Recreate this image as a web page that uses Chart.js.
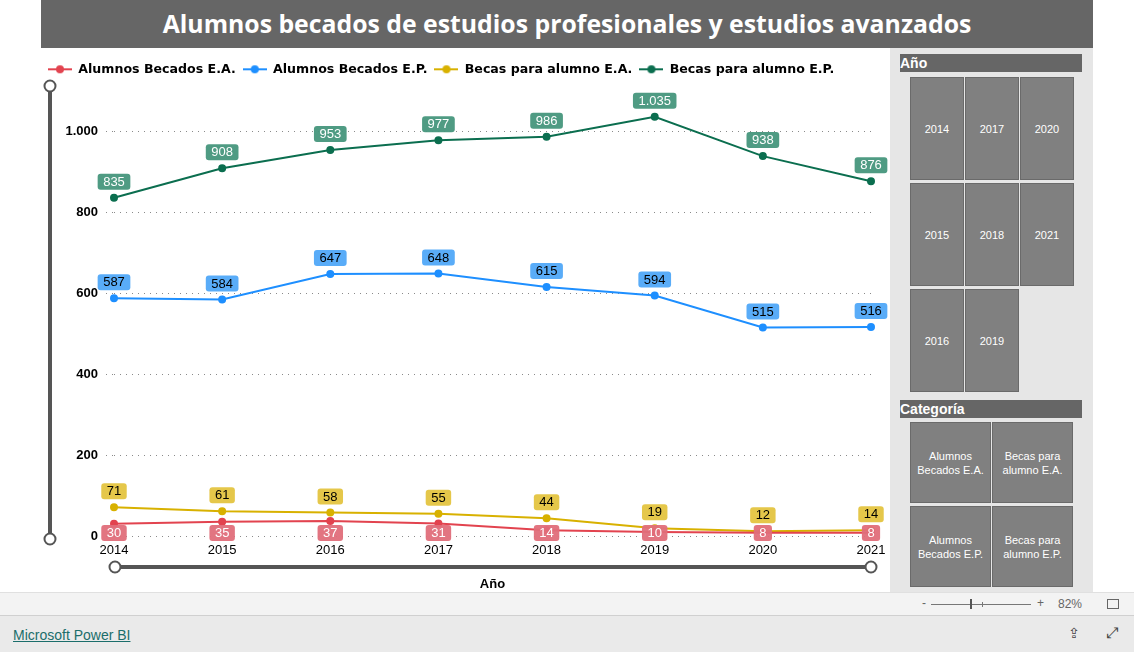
<!DOCTYPE html>
<html>
<head>
<meta charset="utf-8">
<script src="https://cdn.jsdelivr.net/npm/chart.js@4.4.0/dist/chart.umd.min.js"></script>
<style>
  body { margin: 0; width: 1134px; height: 652px; overflow: hidden; background: #fff; font-family: "Liberation Sans", Arial, sans-serif; position: relative; }
  #title { position: absolute; left: 41px; top: 0; width: 1052px; height: 48px; background: #666666; color: #fff;
    font: bold 24.8px "Open Sans", sans-serif; text-align: center; line-height: 47px; }
  #chartBox { position: absolute; left: 41px; top: 48px; width: 849px; height: 544px; }
  #panel { position: absolute; left: 890px; top: 48px; width: 203px; height: 544px; background: #e6e6e6; }
  .hdr { position: absolute; left: 10px; width: 182px; height: 18px; background: #666; color: #fff; font: bold 14px "Liberation Sans", Arial, sans-serif; line-height: 18px; }
  .btn { position: absolute; background: #808080; border: 1px solid #6a6a6a; box-sizing: border-box; color: #fff;
    font: 11px "Liberation Sans", Arial, sans-serif; display: flex; align-items: center; justify-content: center; text-align: center; line-height: 14px; }
  #toolbar { position: absolute; left: 0; top: 592px; width: 1134px; height: 23px; background: #f3f3f3; border-top: 1px solid #e0e0e0; box-sizing: border-box; font: 12px "Liberation Sans", Arial, sans-serif; color: #666; }
  #footer { position: absolute; left: 0; top: 615px; width: 1134px; height: 37px; background: #eaeaea; border-top: 1px solid #d0d0d0; box-sizing: border-box; }
  #footer a { position: absolute; left: 13px; top: 11px; color: #1b6e6b; font: 14px "Liberation Sans", Arial, sans-serif; text-decoration: underline; }
</style>
</head>
<body>
<div id="title">Alumnos becados de estudios profesionales y estudios avanzados</div>
<div id="chartBox"><canvas id="becasChart" width="849" height="544"></canvas></div>
<div id="panel"></div>
<div id="toolbar">
  <span style="position:absolute;left:922px;top:3px;">-</span>
  <div style="position:absolute;left:931px;top:11px;width:100px;height:1px;background:#777;"></div>
  <div style="position:absolute;left:970px;top:6px;width:2px;height:10px;background:#555;"></div>
  <div style="position:absolute;left:982px;top:9px;width:1px;height:5px;background:#777;"></div>
  <span style="position:absolute;left:1037px;top:3px;">+</span>
  <span style="position:absolute;left:1058px;top:4px;">82%</span>
  <div style="position:absolute;left:1107px;top:6px;width:10px;height:8px;border:1px solid #666;"></div>
</div>
<div id="footer">
  <a href="#">Microsoft Power BI</a>
  <span style="position:absolute;left:1068px;top:9px;font:14px 'DejaVu Sans';color:#444;">⇪</span>
  <span style="position:absolute;left:1106px;top:8px;font:15px 'DejaVu Sans';color:#444;">⤢</span>
</div>
<script>
// Data
const years = ['2014', '2015', '2016', '2017', '2018', '2019', '2020', '2021'];
const alumnosEA = [30, 35, 37, 31, 14, 10, 8, 8];
const alumnosEP = [587, 584, 647, 648, 615, 594, 515, 516];
const becasEA = [71, 61, 58, 55, 44, 19, 12, 14];
const becasEP = [835, 908, 953, 977, 986, 1035, 938, 876];
const yTicks = [0, 200, 400, 600, 800, 1000];
const categorias = ['Alumnos Becados E.A.', 'Becas para alumno E.A.', 'Alumnos Becados E.P.', 'Becas para alumno E.P.'];

// Slicer panel (right side)
const panel = document.getElementById('panel');
function addBox(cls, html, l, t, w, h) {
  const d = document.createElement('div');
  d.className = cls;
  d.innerHTML = html;
  d.style.left = l + 'px'; d.style.top = t + 'px';
  if (w) d.style.width = w + 'px';
  if (h) d.style.height = h + 'px';
  panel.appendChild(d);
}
addBox('hdr', 'Año', 10, 6);
years.forEach((y, i) => {
  const col = Math.floor(i / 3), row = i % 3;
  addBox('btn', y, 20 + col * 55, 29 + row * 106, 54, 103);
});
addBox('hdr', 'Categoría', 10, 352);
categorias.forEach((c, i) => {
  const col = i % 2, row = Math.floor(i / 2);
  const txt = c.replace(/^(Alumnos) /, '$1<br>').replace(/^(Becas para) /, '$1<br>');
  addBox('btn', txt, 20 + col * 82, 374 + row * 84, 81, 81);
});

const fmt = v => String(v).replace(/\B(?=(\d{3})+(?!\d))/g, '.');

// legend icon: line with dot
function legendIcon(color) {
  const c = document.createElement('canvas');
  c.width = 24; c.height = 10;
  const g = c.getContext('2d');
  g.strokeStyle = color; g.lineWidth = 2;
  g.beginPath(); g.moveTo(0, 5); g.lineTo(24, 5); g.stroke();
  g.fillStyle = color;
  g.beginPath(); g.arc(12, 5, 4, 0, Math.PI * 2); g.fill();
  return c;
}

const series = [
  { label: 'Alumnos Becados E.A.', data: alumnosEA, color: '#e2434f', box: 'rgba(224,110,122,0.95)', text: '#fff', below: true },
  { label: 'Alumnos Becados E.P.', data: alumnosEP, color: '#1e8fff', box: 'rgba(80,168,248,0.95)', text: '#000' },
  { label: 'Becas para alumno E.A.', data: becasEA, color: '#d8b100', box: 'rgba(228,196,64,0.95)', text: '#000' },
  { label: 'Becas para alumno E.P.', data: becasEP, color: '#0b6e4f', box: 'rgba(70,150,124,0.95)', text: '#fff' }
];

// Data labels in rounded boxes
const boxLabelPlugin = {
  id: 'boxLabelPlugin',
  afterDatasetsDraw(chart) {
    const { ctx, chartArea } = chart;
    ctx.save();
    ctx.font = '13px "Liberation Sans", Arial, sans-serif';
    ctx.textAlign = 'center';
    ctx.textBaseline = 'middle';
    chart.data.datasets.forEach((ds, di) => {
      const s = series[di];
      chart.getDatasetMeta(di).data.forEach((pt, i) => {
        const txt = fmt(ds.data[i]);
        const w = ctx.measureText(txt).width + 11;
        const h = 16;
        let cy = s.below ? Math.min(pt.y + 12, chartArea.bottom - 3) : pt.y - 16;
        ctx.fillStyle = s.box;
        ctx.beginPath();
        ctx.roundRect(pt.x - w / 2, cy - h / 2, w, h, 3);
        ctx.fill();
        ctx.fillStyle = s.text;
        ctx.fillText(txt, pt.x, cy + 0.5);
      });
    });
    ctx.restore();
  }
};

// Range sliders (Power BI zoom bars)
const sliderPlugin = {
  id: 'sliderPlugin',
  afterDraw(chart) {
    const { ctx, chartArea: { left, right, bottom } } = chart;
    ctx.save();
    ctx.strokeStyle = '#555';
    ctx.lineWidth = 4;
    ctx.beginPath(); ctx.moveTo(9, 38); ctx.lineTo(9, bottom + 3); ctx.stroke();
    ctx.beginPath(); ctx.moveTo(left + 1, bottom + 31); ctx.lineTo(right, bottom + 31); ctx.stroke();
    ctx.lineWidth = 2;
    ctx.fillStyle = '#fff';
    [[9, 38], [9, bottom + 3], [left + 1, bottom + 31], [right, bottom + 31]].forEach(([x, y]) => {
      ctx.beginPath(); ctx.arc(x, y, 5.5, 0, Math.PI * 2); ctx.fill(); ctx.stroke();
    });
    ctx.restore();
  }
};

const legendHeightPlugin = {
  id: 'legendHeightPlugin',
  beforeInit(chart) {
    const origFit = chart.legend.fit;
    chart.legend.fit = function () {
      origFit.bind(chart.legend)();
      this.height = 34.5;
    };
  }
};

const ctx = document.getElementById('becasChart').getContext('2d');
new Chart(ctx, {
  type: 'line',
  data: {
    labels: years,
    datasets: series.map(s => ({
      label: s.label,
      data: s.data,
      borderColor: s.color,
      backgroundColor: s.color,
      borderWidth: 2,
      pointRadius: 3,
      pointHoverRadius: 4,
      pointStyle: 'circle',
      tension: 0
    }))
  },
  options: {
    responsive: false,
    animation: false,
    layout: { padding: { left: 0, right: 19, top: 8, bottom: 0 } },
    plugins: {
      legend: {
        position: 'top',
        align: 'start',
        labels: {
          usePointStyle: true,
          pointStyleWidth: 24,
          padding: 7,
          color: '#000',
          font: { family: '"DejaVu Sans", sans-serif', size: 12.6, weight: 'bold' },
          generateLabels: chart => chart.data.datasets.map((ds, i) => ({
            text: ds.label,
            pointStyle: legendIcon(series[i].color),
            fillStyle: ds.borderColor,
            strokeStyle: ds.borderColor,
            lineWidth: 0,
            fontColor: '#000',
            datasetIndex: i
          }))
        }
      },
      tooltip: { enabled: false }
    },
    scales: {
      x: {
        offset: false,
        grid: { display: false },
        border: { display: false },
        ticks: { color: '#000', font: { family: '"Liberation Sans", Arial, sans-serif', size: 13 }, padding: -1 },
        title: { display: true, text: 'Año', color: '#000', padding: { top: 0, bottom: 0 },
          font: { family: '"Liberation Sans", Arial, sans-serif', size: 13, weight: 'bold' } },
        afterFit(scale) { scale.height = 56; }
      },
      y: {
        min: 0,
        max: 1100,
        border: { display: false, dash: [1, 5] },
        grid: { color: '#8a8a8a', tickBorderDash: [1, 5], tickLength: 8, lineWidth: 1 },
        ticks: {
          color: '#000',
          padding: 8,
          font: { family: '"Liberation Sans", Arial, sans-serif', size: 13, weight: 'bold' },
          callback: v => fmt(v)
        },
        afterBuildTicks(scale) { scale.ticks = yTicks.map(v => ({ value: v })); },
        afterFit(scale) { scale.width = 73; }
      }
    }
  },
  plugins: [legendHeightPlugin, boxLabelPlugin, sliderPlugin]
});
</script>
</body>
</html>
